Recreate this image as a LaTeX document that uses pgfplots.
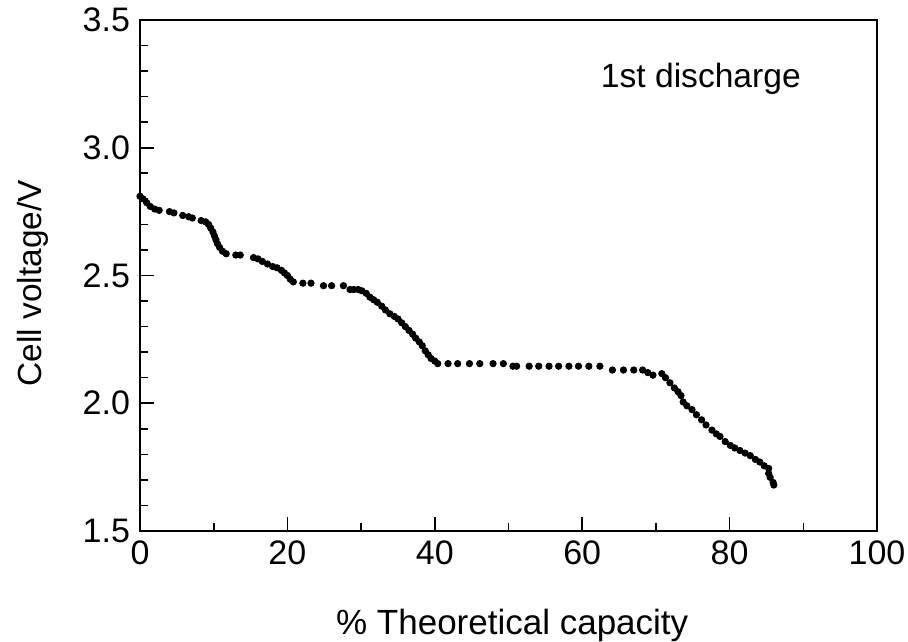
\documentclass[border=0pt]{standalone}
\usepackage{fontspec}
\setmainfont{Liberation Sans}
\usepackage{pgfplots}
\pgfplotsset{compat=1.18}
\begin{document}
\begin{tikzpicture}
\begin{axis}[name=ax, scale only axis, width=368.5pt, height=255.5pt,
  xmin=0, xmax=100, ymin=1.5, ymax=3.5,
  xtick={0,20,40,60,80,100}, minor x tick num=1,
  ytick={1.5,2.0,2.5,3.0,3.5}, minor y tick num=4,
  xtick pos=bottom, ytick pos=left,
  tick align=inside,
  major tick length=7pt, minor tick length=4pt,
  axis line style={line width=0.8pt},
  every tick/.style={black, line width=0.8pt},
  /pgf/number format/assume math mode=true,
  yticklabel style={/pgf/number format/fixed, /pgf/number format/fixed zerofill, /pgf/number format/precision=1, xshift=-1.5pt},
  xticklabel style={yshift=-1.5pt},
  ticklabel style={font=\fontsize{17}{20}\selectfont},
  xlabel={\% Theoretical capacity}, ylabel={Cell voltage/V},
  xlabel style={font=\fontsize{17.5}{21}\selectfont, at={(axis description cs:0.505,-0.184)}, anchor=center},
  ylabel style={font=\fontsize{16.7}{20}\selectfont, at={(axis description cs:-0.145,0.485)}, anchor=center},
]
\addplot[only marks, mark=*, mark size=1.6pt, black] coordinates {
(0.0,2.81) (0.4,2.80) (0.9,2.785) (1.4,2.77) (2.0,2.76) (2.6,2.755)
(4.0,2.75) (4.6,2.745) (5.8,2.735) (6.6,2.73) (7.1,2.725) (8.3,2.715)
(8.9,2.71) (9.3,2.70) (9.6,2.685) (9.9,2.67) (10.1,2.655) (10.3,2.64)
(10.5,2.625) (10.8,2.61) (11.2,2.595) (11.7,2.585) (13.0,2.58) (13.6,2.58)
(15.4,2.57) (16.0,2.565) (16.6,2.555) (17.3,2.545) (18.0,2.535) (18.6,2.53)
(19.2,2.52) (19.6,2.51) (20.0,2.50) (20.4,2.485) (20.8,2.475) (22.1,2.47)
(23.2,2.47) (24.9,2.46) (26.0,2.46) (27.6,2.46) (28.5,2.445) (29.0,2.445)
(29.6,2.445) (30.1,2.44) (30.7,2.43) (31.2,2.415) (31.7,2.405) (32.2,2.395)
(32.8,2.38) (33.3,2.365) (33.9,2.35) (34.5,2.34) (35.0,2.33) (35.5,2.315)
(36.0,2.30) (36.5,2.285) (37.0,2.27) (37.4,2.255) (37.9,2.24) (38.3,2.225)
(38.7,2.205) (39.1,2.19) (39.5,2.175) (40.0,2.165) (40.4,2.155) (41.8,2.155)
(43.1,2.155) (44.7,2.155) (46.1,2.155) (47.9,2.155) (49.3,2.155) (50.6,2.145)
(51.1,2.145) (52.8,2.145) (54.1,2.145) (55.5,2.145) (56.8,2.145) (58.2,2.145)
(59.5,2.145) (60.9,2.145) (62.4,2.145) (64.1,2.13) (65.6,2.13) (67.0,2.13)
(68.2,2.13) (68.9,2.12) (69.6,2.11) (70.8,2.116) (71.3,2.10) (71.9,2.08)
(72.5,2.06) (73.0,2.045) (73.4,2.03) (73.7,2.005) (74.2,1.99) (74.9,1.975)
(75.5,1.955) (76.2,1.935) (76.8,1.915) (77.6,1.895) (78.2,1.88) (78.7,1.87)
(79.4,1.85) (80.1,1.835) (80.7,1.825) (81.4,1.815) (82.1,1.805) (82.8,1.795)
(83.5,1.78) (84.1,1.77) (84.7,1.755) (85.3,1.745) (85.3,1.725) (85.5,1.71)
(85.9,1.69) (86.0,1.68)
};
\node[font=\fontsize{16.8}{20}\selectfont] at (axis cs:76.1,3.27) {1st discharge};
\end{axis}
\pgfresetboundingbox
\path (ax.south west) ++(-70pt,-55pt) rectangle ++(454pt,320.5pt);
\end{tikzpicture}
\end{document}
